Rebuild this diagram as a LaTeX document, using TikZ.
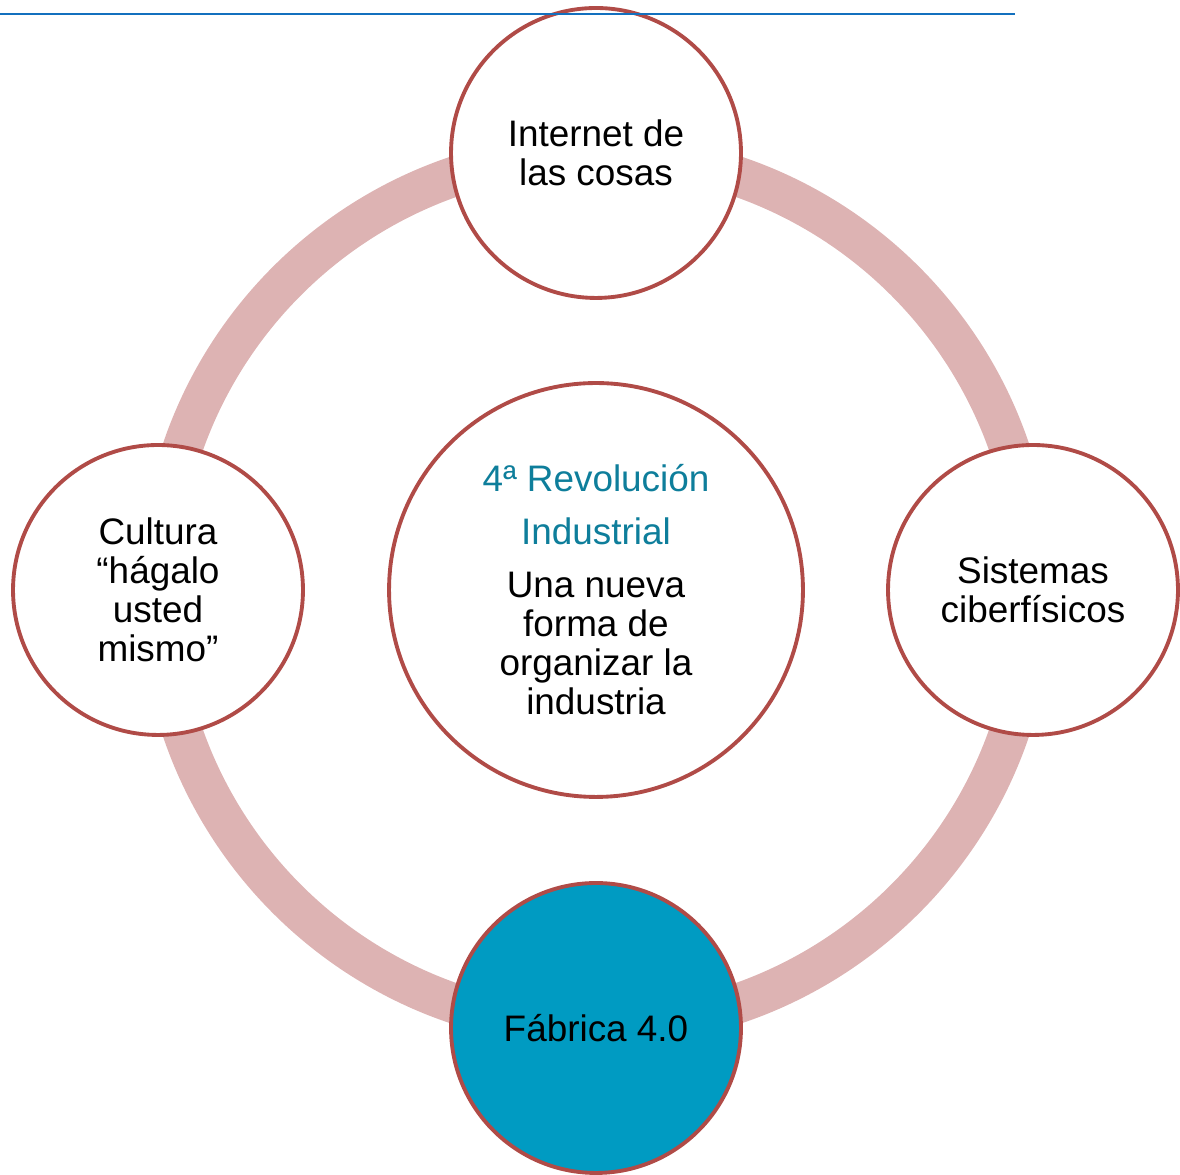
\documentclass[tikz,border=0pt]{standalone}
\usepackage{fontspec}
\setmainfont{Liberation Sans}
\definecolor{ringpink}{HTML}{DDB3B3}
\definecolor{rimred}{HTML}{B04B47}
\definecolor{fabblue}{HTML}{009BC2}
\definecolor{titleblue}{HTML}{0E7E9B}
\definecolor{ruleblue}{HTML}{1370BE}
\begin{document}
\begin{tikzpicture}[x=0.02cm,y=0.02cm]

    \tikzset{
      bubble/.style={
        circle,
        draw=rimred,
        line width=2.2pt,
        fill=white,
        inner sep=0pt,
        minimum size=5.8cm,
        align=center,
        font=\fontsize{21}{22.2}\selectfont,
      },
      hub/.style={
        bubble,
        minimum size=8.28cm,
      },
    }
    \useasboundingbox (0,0) rectangle (1180,1175);
    \coordinate (mid) at (596,585);
    \draw[ringpink,line width=0.8cm] (mid) circle [radius=437];
    \node[bubble] (iot) at (596,1022) {Internet de\\las cosas};
    \node[bubble] (cps) at (1033,585) {Sistemas\\ciberfísicos};
    \node[bubble,fill=fabblue] (fab) at (596,147) {Fábrica 4.0};
    \node[bubble] (diy) at (158,585) {Cultura\\“hágalo\\usted\\mismo”};
    \node[hub] (core) at (mid) {\textcolor{titleblue}{4ª Revolución}\\[8pt]
      \textcolor{titleblue}{Industrial}\\[8pt]
      Una nueva\\forma de\\organizar la\\industria};
    \draw[ruleblue,line width=1.1pt] (0,1161) -- (1015,1161);

\end{tikzpicture}
\end{document}
